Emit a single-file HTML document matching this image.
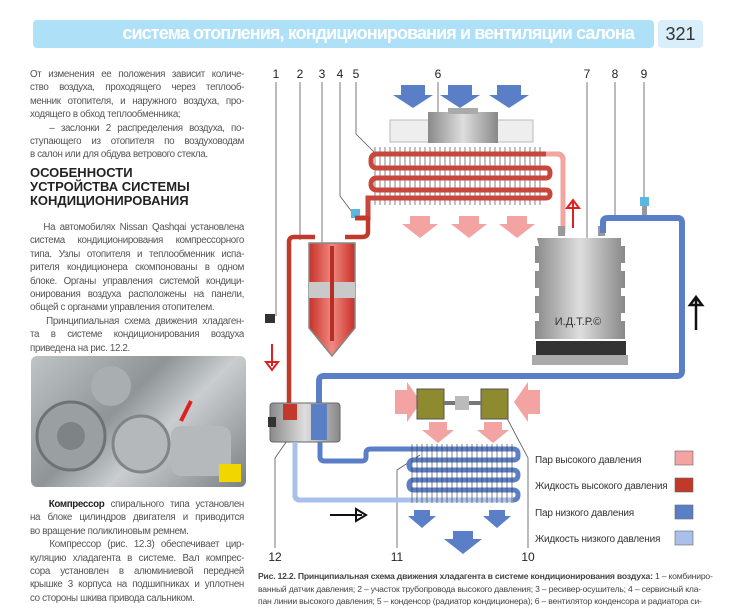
<!DOCTYPE html>
<html><head><meta charset="utf-8"><style>
body{margin:0;width:738px;height:600px;background:#fff;position:relative;overflow:hidden;font-family:"Liberation Sans",sans-serif;}
.hdr{position:absolute;left:33px;top:20px;width:621px;height:28px;background:#aee0f7;border-radius:4px;}
.hdr span{position:absolute;right:20px;top:3px;color:#fff;font-size:18px;font-weight:bold;letter-spacing:-0.9px;white-space:nowrap}
.pg{position:absolute;left:658px;top:20px;width:45px;height:28px;background:#d8eefa;border-radius:4px;color:#333;font-size:18px;text-align:center;line-height:28px}
.col{position:absolute;left:30px;width:214px;font-size:9.8px;line-height:13.4px;color:#555;letter-spacing:-0.35px}
.col div{white-space:nowrap;text-align:justify;text-align-last:justify;height:13.4px;overflow:hidden}
.col div.l{text-align-last:left}
h3{position:absolute;left:30px;top:166px;margin:0;font-size:13px;line-height:14px;color:#222;font-weight:bold}
.photo{position:absolute;left:31px;top:356px;width:215px;height:131px;border-radius:6px;background:linear-gradient(135deg,#bfc4c6,#8f9597 40%,#c9cdcf 60%,#7b8082);}
.cap{position:absolute;left:258px;top:570px;width:460px;font-size:8.6px;line-height:12.6px;color:#444;white-space:nowrap;letter-spacing:-0.2px}
</style></head><body>
<div class="hdr"><span>система отопления, кондиционирования и вентиляции салона</span></div>
<div class="pg">321</div>
<div class="col" style="top:68px">
<div>От изменения ее положения зависит количе-</div>
<div>ство воздуха, проходящего через теплооб-</div>
<div>менник отопителя, и наружного воздуха, про-</div>
<div class="l">ходящего в обход теплообменника;</div>
<div>&nbsp;&nbsp;&nbsp;– заслонки 2 распределения воздуха, по-</div>
<div>ступающего из отопителя по воздуховодам</div>
<div class="l">в салон или для обдува ветрового стекла.</div></div>
<h3>ОСОБЕННОСТИ<br>УСТРОЙСТВА СИСТЕМЫ<br>КОНДИЦИОНИРОВАНИЯ</h3>
<div class="col" style="top:221px">
<div>&nbsp;&nbsp;&nbsp;На автомобилях Nissan Qashqai установлена</div>
<div>система кондиционирования компрессорного</div>
<div>типа. Узлы отопителя и теплообменник испа-</div>
<div>рителя кондиционера скомпонованы в одном</div>
<div>блоке. Органы управления системой кондици-</div>
<div>онирования воздуха расположены на панели,</div>
<div class="l">общей с органами управления отопителем.</div>
<div>&nbsp;&nbsp;&nbsp;Принципиальная схема движения хладаген-</div>
<div>та в системе кондиционирования воздуха</div>
<div class="l">приведена на рис. 12.2.</div></div>
<div class="photo">
<svg width="215" height="131"><circle cx="40" cy="80" r="34" fill="#9a9fa1" stroke="#6d7274" stroke-width="3"/><circle cx="40" cy="80" r="14" fill="#7e8385"/><circle cx="110" cy="88" r="28" fill="#b4b8ba" stroke="#80858a" stroke-width="3"/><circle cx="80" cy="30" r="20" fill="#a9aeb0"/><rect x="140" y="70" width="60" height="50" rx="10" fill="#b5b9bb"/><path d="M160 45 L150 65" stroke="#e02020" stroke-width="4"/><rect x="188" y="108" width="22" height="18" fill="#f2d600"/></svg></div>
<div class="col" style="top:498px">
<div>&nbsp;&nbsp;&nbsp;<b style="color:#222">Компрессор</b> спирального типа установлен</div>
<div>на блоке цилиндров двигателя и приводится</div>
<div class="l">во вращение поликлиновым ремнем.</div>
<div>&nbsp;&nbsp;&nbsp;Компрессор (рис. 12.3) обеспечивает цир-</div>
<div>куляцию хладагента в системе. Вал компрес-</div>
<div>сора установлен в алюминиевой передней</div>
<div>крышке 3 корпуса на подшипниках и уплотнен</div>
<div class="l">со стороны шкива привода сальником.</div></div>

<svg style="position:absolute;left:0;top:0" width="738" height="600">
<defs><linearGradient id="g" x1="0" x2="1"><stop offset="0" stop-color="#8a8a8a"/><stop offset=".5" stop-color="#dedede"/><stop offset="1" stop-color="#888"/></linearGradient>
<linearGradient id="r" x1="0" x2="1"><stop offset="0" stop-color="#c8302a"/><stop offset=".5" stop-color="#f08a80"/><stop offset="1" stop-color="#c8302a"/></linearGradient></defs>
<g font-size="12" fill="#222" text-anchor="middle">
<text x="276" y="78">1</text><text x="300" y="78">2</text><text x="322" y="78">3</text><text x="340" y="78">4</text><text x="356" y="78">5</text><text x="438" y="78">6</text><text x="587" y="78">7</text><text x="615" y="78">8</text><text x="644" y="78">9</text>
<text x="275" y="561">12</text><text x="397" y="561">11</text><text x="528" y="561">10</text></g>
<g stroke="#555" stroke-width="0.8" fill="none">
<path d="M276 82V316"/><path d="M300 82V240"/><path d="M322 82V250"/><path d="M340 82V196L352 212"/><path d="M356 82V134L378 156"/><path d="M438 82V125"/><path d="M587 82V265"/><path d="M615 82V218"/><path d="M644 82V200"/>
<path d="M275 548V458L303 418"/><path d="M397 548V470L420 455"/><path d="M528 548V458L500 405"/></g>
<g fill="#5b7fc7"><path d="M401 85h24v10h8l-20 13l-20-13h8z"/><path d="M448 85h24v10h8l-20 13l-20-13h8z"/><path d="M497 85h24v10h8l-20 13l-20-13h8z"/></g>
<path d="M390 142V120h143v22z" fill="#eee" stroke="#bbb"/><rect x="428" y="112" width="70" height="31" fill="url(#g)"/><rect x="448" y="108" width="30" height="6" fill="#aaa"/>
<g stroke="#333" stroke-width="0.6"><path d="M375 147V205M380 147V205M385 147V205M390 147V205M395 147V205M400 147V205M405 147V205M410 147V205M415 147V205M420 147V205M425 147V205M430 147V205M435 147V205M440 147V205M445 147V205M450 147V205M455 147V205M460 147V205M465 147V205M470 147V205M475 147V205M480 147V205M485 147V205M490 147V205M495 147V205M500 147V205M505 147V205M510 147V205M515 147V205M520 147V205M525 147V205M530 147V205M535 147V205M540 147V205"/></g>
<path d="M563 233V160Q563 154 557 154H377Q371 154 371 160V162Q371 168 377 168H546Q550 168 550 173Q550 178 546 178H377Q371 178 371 184Q371 190 377 190H546Q550 190 550 194Q550 198 546 198H368V218H355" fill="none" stroke="#c8463c" stroke-width="5"/>
<path d="M563 233V160Q563 154 557 154H546" fill="none" stroke="#f3a5a0" stroke-width="5"/>
<g fill="#f4a3a3"><path d="M410 216h20v8h8l-18 14l-18-14h8z"/><path d="M459 216h20v8h8l-18 14l-18-14h8z"/><path d="M507 216h20v8h8l-18 14l-18-14h8z"/><path d="M395 390h12v-8l14 20l-14 20v-8h-12z"/><path d="M540 390h-12v-8l-14 20l14 20v-8h12z"/><path d="M429 422h18v8h7l-16 13l-16-13h7z"/><path d="M484 422h18v8h7l-16 13l-16-13h7z"/></g>
<path d="M573 228V202M567 208l6-8l6 8z" stroke="#e02020" stroke-width="2" fill="#fff"/>
<rect x="351" y="209" width="9" height="9" fill="#5ab8e0"/><rect x="640" y="197" width="9" height="9" fill="#5ab8e0"/><rect x="642" y="206" width="5" height="10" fill="#999"/><rect x="265" y="314" width="10" height="9" fill="#333"/>
<path d="M355 218H368V232Q368 237 362 237H345M315 237H294Q289 237 289 242V403" fill="none" stroke="#c0392b" stroke-width="4.5"/>
<path d="M309 243h46v85l-23 28l-23-28z" fill="url(#r)" stroke="#888" stroke-width="1.5"/>
<rect x="309" y="282" width="46" height="16" fill="#c9c9c9"/><rect x="330" y="246" width="4" height="95" fill="#b52e28"/>
<path d="M272 344V366M266 362l6 8l6-8z" stroke="#e02020" stroke-width="2" fill="#fff"/>
<rect x="558" y="226" width="7" height="10" fill="#999"/><rect x="598" y="226" width="7" height="10" fill="#999"/>
<path d="M537 238h84v8h4v17h-4v8h4v17h-4v8h4v17h-4v8h4v18h-90v-18h4v-8h-4v-17h4v-8h-4v-17h4v-8h-4v-17h4z" fill="url(#g)"/>
<rect x="536" y="341" width="90" height="14" fill="#333"/><rect x="532" y="355" width="96" height="10" fill="#aaa"/>
<text x="578" y="325" font-size="11" fill="#333" text-anchor="middle">И.Д.Т.Р.©</text>
<path d="M603 233V222Q603 218 608 218H678Q682 218 682 223V371Q682 376 677 376H324Q319 376 319 381V405" fill="none" stroke="#5b7fc7" stroke-width="6"/>
<path d="M696 330V298M690 305l6-8l6 8z" stroke="#111" stroke-width="2.5" fill="#fff"/>
<rect x="270" y="403" width="70" height="39" rx="3" fill="url(#g)" stroke="#666"/><rect x="283" y="404" width="14" height="16" fill="#c0392b"/><rect x="311" y="404" width="16" height="36" fill="#5b7fc7"/><rect x="268" y="417" width="8" height="10" fill="#333"/>
<path d="M320 442V457Q320 461 325 461H362Q366 461 366 457V453Q366 449 371 449H513Q518 449 518 454V456Q518 460 513 460H414Q409 460 409 465Q409 470 414 470H513Q518 470 518 475Q518 480 513 480H414Q409 480 409 485Q409 490 414 490H513Q518 490 518 495Q518 500 513 500H300Q295 500 295 495V442" fill="none" stroke="#5b7fc7" stroke-width="5"/>
<path d="M513 500H300Q295 500 295 495V442" fill="none" stroke="#a9c1ea" stroke-width="5"/>
<g stroke="#333" stroke-width="0.6"><path d="M412 444V503M417 444V503M422 444V503M427 444V503M432 444V503M437 444V503M442 444V503M447 444V503M452 444V503M457 444V503M462 444V503M467 444V503M472 444V503M477 444V503M482 444V503M487 444V503M492 444V503M497 444V503M502 444V503M507 444V503M512 444V503"/></g>
<rect x="417" y="389" width="27" height="30" fill="#8e8a30" stroke="#555"/><rect x="481" y="389" width="27" height="30" fill="#8e8a30" stroke="#555"/><rect x="444" y="401" width="37" height="4" fill="#777"/><rect x="455" y="396" width="14" height="14" fill="#bbb"/>
<g fill="#5b7fc7"><path d="M414 510h16v6h6l-14 12l-14-12h6z"/><path d="M489 510h16v6h6l-14 12l-14-12h6z"/><path d="M453 531h20v8h9l-19 15l-19-15h9z"/></g>
<path d="M330 515H362M356 509l10 6l-10 6z" stroke="#111" stroke-width="2" fill="#fff"/>
<g font-size="10" fill="#333" letter-spacing="-0.2"><text x="535" y="463">Пар высокого давления</text><text x="535" y="489">Жидкость высокого давления</text><text x="535" y="516">Пар низкого давления</text><text x="535" y="542">Жидкость низкого давления</text></g>
<rect x="675" y="451" width="18" height="14" fill="#f4a3a3" stroke="#666" stroke-width=".6"/><rect x="675" y="478" width="18" height="14" fill="#c0392b" stroke="#666" stroke-width=".6"/><rect x="675" y="505" width="18" height="14" fill="#5b7fc7" stroke="#666" stroke-width=".6"/><rect x="675" y="531" width="18" height="14" fill="#a9c1ea" stroke="#666" stroke-width=".6"/>
</svg>
<div class="cap"><b>Рис. 12.2. Принципиальная схема движения хладагента в системе кондиционирования воздуха:</b> 1 – комбиниро-<br>ванный датчик давления; 2 – участок трубопровода высокого давления; 3 – ресивер-осушитель; 4 – сервисный кла-<br>пан линии высокого давления; 5 – конденсор (радиатор кондиционера); 6 – вентилятор конденсора и радиатора си-</div>
</body></html>
